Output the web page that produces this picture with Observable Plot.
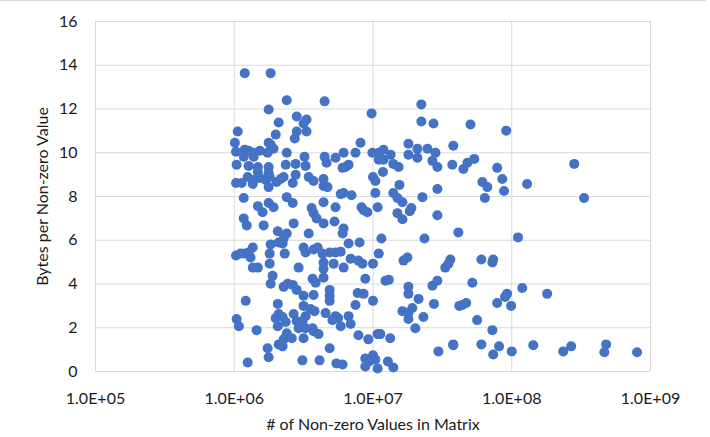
<!DOCTYPE html>
<html><head><meta charset="utf-8">
<script src="https://cdn.jsdelivr.net/npm/d3@7"></script>
<script src="https://cdn.jsdelivr.net/npm/@observablehq/plot@0.6"></script>
<style>
html,body{margin:0;padding:0;background:#fff;}
#chart{position:relative;width:710px;height:437px;}
#chart::before{content:"";position:absolute;top:0;left:0;right:4px;height:1px;background:#d9d9d9;}
</style></head><body><div id="chart"></div>
<script>
const nnz = [
1.19e6,1.83e6,2.39e6,1.77e6,2.09e6,2.82e6,1.06e6,1.01e6,1.99e6,2.82e6,
2.73e6,1.77e6,1.83e6,1.92e6,1.03e6,1.19e6,1.27e6,1.38e6,1.53e6,1.74e6,
1.17e6,1.38e6,2.39e6,1.04e6,1.27e6,1.48e6,1.77e6,1.48e6,1.77e6,2.35e6,
2.77e6,1.03e6,1.13e6,1.25e6,1.38e6,1.53e6,1.69e6,1.80e6,2.02e6,2.27e6,
1.36e6,1.77e6,2.77e6,2.64e6,2.16e6,1.17e6,2.39e6,2.64e6,1.48e6,1.60e6,
1.77e6,1.92e6,1.17e6,1.23e6,1.63e6,2.68e6,2.06e6,2.39e6,2.27e6,2.09e6,
2.23e6,2.31e6,1.83e6,1.80e6,1.03e6,1.11e6,1.19e6,1.27e6,1.36e6,1.31e6,
1.80e6,1.36e6,1.48e6,1.89e6,1.83e6,2.27e6,2.43e6,2.64e6,2.82e6,2.91e6,
1.21e6,2.06e6,1.04e6,1.08e6,1.45e6,1.99e6,2.09e6,2.23e6,2.06e6,2.35e6,
2.68e6,2.82e6,2.39e6,2.27e6,2.60e6,2.09e6,2.23e6,1.74e6,1.77e6,1.25e6,
4.48e6,9.77e6,3.32e6,3.16e6,3.32e6,8.13e6,6.14e6,7.48e6,9.90e6,3.21e6,
4.48e6,5.37e6,4.63e6,3.27e6,6.67e6,6.34e6,6.04e6,3.44e6,3.73e6,4.40e6,
4.40e6,4.70e6,1.00e7,1.04e7,5.85e6,6.14e6,7.00e6,1.04e7,4.40e6,3.61e6,
5.37e6,8.27e6,8.56e6,9.10e6,3.73e6,3.92e6,1.08e7,4.40e6,5.28e6,3.44e6,
6.04e6,6.14e6,6.67e6,8.00e6,3.16e6,3.27e6,3.73e6,3.99e6,4.33e6,4.87e6,
5.37e6,5.85e6,5.20e6,6.14e6,6.90e6,7.85e6,8.40e6,1.00e7,4.40e6,4.40e6,
3.67e6,3.86e6,4.40e6,8.80e6,4.87e6,4.87e6,4.87e6,7.75e6,8.56e6,1.00e7,
7.48e6,3.16e6,3.73e6,3.16e6,3.55e6,3.79e6,3.27e6,4.55e6,5.37e6,5.10e6,
5.60e6,5.85e6,6.67e6,6.90e6,3.00e6,3.10e6,2.91e6,3.27e6,3.67e6,3.73e6,
4.05e6,3.16e6,7.85e6,9.25e6,1.08e7,4.87e6,3.10e6,4.12e6,5.45e6,6.04e6,
1.00e7,8.80e6,9.40e6,8.80e6,1.08e7,2.23e7,2.23e7,2.73e7,1.80e7,2.09e7,
2.47e7,2.82e7,3.79e7,1.10e7,1.19e7,1.34e7,1.80e7,2.09e7,1.10e7,1.19e7,
1.18e7,2.68e7,2.91e7,3.73e7,4.48e7,1.40e7,1.53e7,1.55e7,1.40e7,1.50e7,
1.63e7,2.27e7,2.91e7,1.89e7,1.84e7,1.50e7,1.63e7,2.91e7,1.15e7,2.35e7,
4.12e7,1.10e7,1.66e7,1.77e7,3.61e7,3.50e7,3.32e7,1.23e7,1.30e7,1.80e7,
1.80e7,2.68e7,2.91e7,2.13e7,2.75e7,4.19e7,1.63e7,1.80e7,1.92e7,1.80e7,
2.31e7,2.02e7,1.13e7,1.33e7,2.96e7,3.79e7,1.04e7,1.28e7,1.40e7,5.04e7,
9.12e7,4.79e7,5.37e7,7.85e7,8.55e7,6.14e7,6.67e7,8.80e7,6.40e7,1.29e8,
2.82e8,3.32e8,1.11e8,6.04e7,7.25e7,7.35e7,5.20e7,1.19e8,1.80e8,4.40e7,
4.70e7,7.85e7,9.25e7,8.95e7,9.90e7,5.63e7,7.25e7,3.79e7,6.04e7,8.10e7,
7.35e7,1.00e8,1.43e8,2.35e8,2.68e8,4.79e8,4.65e8,8.00e8
];
const bytesPerValue = [
13.64,13.64,12.40,11.98,11.38,11.66,10.97,10.46,10.83,10.97,
10.65,10.46,10.37,10.18,10.05,10.14,10.09,10.00,10.09,10.00,
9.82,9.82,10.00,9.45,9.40,9.35,9.35,9.12,9.08,9.45,
9.49,8.62,8.62,8.89,8.76,8.85,8.76,8.89,8.66,8.89,
8.57,8.43,8.99,8.62,8.80,7.93,7.97,7.70,7.56,7.28,
7.70,7.51,7.00,6.68,6.68,6.77,6.41,6.31,6.08,5.90,
5.85,5.39,5.81,5.39,5.30,5.39,5.39,5.44,5.67,5.21,
4.93,4.75,4.75,4.38,4.01,3.87,4.01,3.96,3.73,4.75,
3.23,3.09,2.40,2.07,1.89,2.44,2.63,2.49,2.07,2.26,
2.63,2.30,1.75,1.47,1.52,1.24,1.15,1.06,0.65,0.41,
12.35,11.80,11.52,11.34,10.97,10.46,10.00,10.00,10.00,9.82,
9.82,9.77,9.54,9.40,9.45,9.35,9.31,8.89,8.71,8.80,
8.48,8.43,8.89,8.71,8.11,8.16,8.06,8.16,7.74,7.47,
7.51,7.51,7.37,7.28,7.24,7.00,7.51,6.77,6.86,6.31,
6.31,6.54,5.85,5.90,5.67,5.44,5.58,5.67,5.39,5.44,
5.44,5.48,4.93,4.75,5.16,5.07,4.93,4.93,4.98,4.70,
4.24,4.06,4.29,4.24,3.73,3.46,3.23,3.59,3.55,3.23,
3.04,3.46,3.50,3.00,2.86,2.76,2.53,2.67,2.53,2.35,
2.44,2.07,2.53,2.17,2.17,2.30,1.98,1.98,1.98,1.84,
1.71,1.52,1.66,1.47,1.71,1.06,0.51,0.51,0.37,0.32,
0.74,0.60,0.46,0.23,0.14,12.21,11.43,11.34,10.41,10.18,
10.18,10.00,10.32,10.00,10.14,9.91,9.91,9.77,9.68,9.68,
9.12,9.63,9.35,9.45,9.26,9.49,9.35,8.53,8.16,7.93,
7.74,7.97,8.34,7.47,7.33,7.24,6.96,7.14,6.08,6.08,
6.36,5.39,5.07,5.21,5.12,4.93,4.75,4.15,4.19,3.87,
3.55,3.92,4.15,3.32,3.09,3.00,2.76,2.67,2.90,2.40,
2.49,1.98,1.71,1.52,0.92,1.24,0.55,0.46,0.18,11.29,
11.01,9.54,9.72,9.31,8.80,8.66,8.43,8.25,7.93,8.57,
9.49,7.93,6.13,5.12,4.98,5.12,4.06,3.82,3.55,3.04,
3.13,3.13,3.55,3.41,3.00,2.35,1.89,1.20,1.24,1.15,
0.78,0.92,1.20,0.92,1.15,1.24,0.88,0.88
];
const xTicks = [1e5, 1e6, 1e7, 1e8, 1e9];
const xTickLabels = ["1.0E+05", "1.0E+06", "1.0E+07", "1.0E+08", "1.0E+09"];
const yTicks = [0, 2, 4, 6, 8, 10, 12, 14, 16];
const xTitle = "# of Non-zero Values in Matrix";
const yTitle = "Bytes per Non-zero Value";

const points = nnz.map((x, i) => ({x, y: bytesPerValue[i]}));

const chart = Plot.plot({
  width: 710, height: 437,
  marginLeft: 95, marginRight: 60, marginTop: 21, marginBottom: 66,
  style: {fontFamily: "Lato, 'Open Sans', sans-serif", fontSize: "16px", color: "#1a1a1a", background: "#fff", overflow: "visible"},
  x: {type: "log", domain: [1e5, 1e9], ticks: xTicks,
      tickFormat: d => xTickLabels[Math.round(Math.log10(d)) - 5],
      tickSize: 0, tickPadding: 21, label: xTitle, labelAnchor: "center", labelOffset: 58, labelArrow: "none"},
  y: {domain: [0, 16], ticks: yTicks, tickSize: 0, tickPadding: 18,
      label: yTitle, labelAnchor: "center", labelOffset: 59, labelArrow: "none"},
  marks: [
    Plot.ruleX(xTicks, {stroke: "#d9d9d9", strokeOpacity: 1}),
    Plot.ruleY(yTicks, {stroke: "#d9d9d9", strokeOpacity: 1}),
    Plot.dot(points, {x: "x", y: "y", r: 5, fill: "#4472C4", stroke: "none"})
  ]
});
document.getElementById("chart").appendChild(chart);
</script></body></html>
